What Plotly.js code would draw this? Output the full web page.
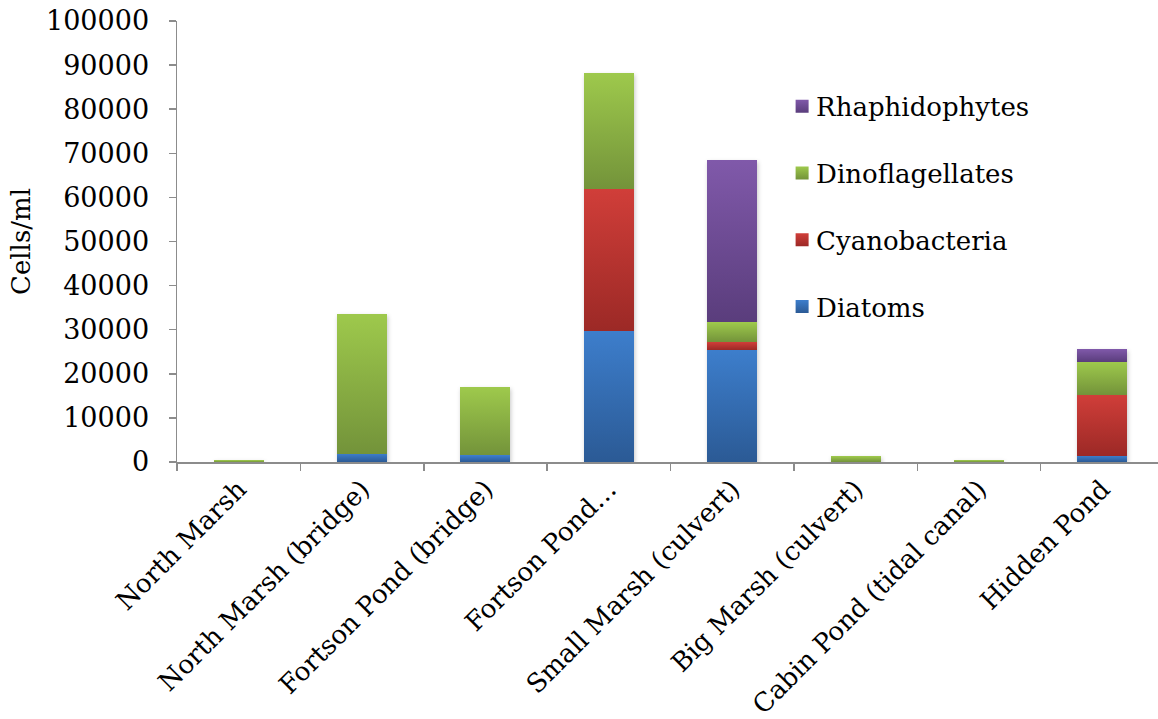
<!DOCTYPE html>
<html>
<head>
<meta charset="utf-8">
<script src="https://cdn.plot.ly/plotly-3.0.1.min.js"></script>
<style>
html,body{margin:0;padding:0;overflow:hidden;background:#fff;}
#chart{width:1166px;height:719px;}
</style>
</head>
<body>
<div id="chart"></div>
<script>
const categories = ["North Marsh","North Marsh (bridge)","Fortson Pond (bridge)","Fortson Pond…","Small Marsh (culvert)","Big Marsh (culvert)","Cabin Pond (tidal canal)","Hidden Pond"];
const diatoms        = [0, 1900, 1500, 29800, 25400, 0, 0, 1400];
const cyanobacteria  = [0, 0, 0, 32000, 1800, 0, 0, 13800];
const dinoflagellates= [400, 31700, 15400, 26500, 4500, 1300, 400, 7500];
const rhaphidophytes = [0, 0, 0, 0, 36800, 0, 0, 2900];
const yTicks = [0,10000,20000,30000,40000,50000,60000,70000,80000,90000,100000];

const seriesNames = ["Diatoms","Cyanobacteria","Dinoflagellates","Rhaphidophytes"];
const seriesVals = [diatoms, cyanobacteria, dinoflagellates, rhaphidophytes];
const midColors = ["#3469b0","#b83430","#89ae42","#6e4d94"];
const gradStops = [["#3d7ecc","#2b5a95"],["#d03e39","#9c2926"],["#9ec94c","#73933a"],["#8059aa","#5a3d7c"]];

const FONT = "DejaVu Serif, Liberation Serif, serif";

const data = seriesNames.map((n,i)=>({
  type:"bar", name:n, x:categories, y:seriesVals[i],
  marker:{color:midColors[i], line:{width:0}},
  legendgroup:"g"+i, legendrank:4-i, hoverinfo:"skip"
}));

const layout = {
  width:1166, height:719,
  margin:{l:177, r:2, t:21, b:257},
  barmode:"stack", bargap:0.595,
  paper_bgcolor:"#fff", plot_bgcolor:"#fff",
  font:{family:FONT, size:26, color:"#000"},
  showlegend:true,
  legend:{x:0.607, y:0.86, xanchor:"left", yanchor:"top", traceorder:"grouped", tracegroupgap:30,
          font:{family:FONT, size:26, color:"#000"}, bgcolor:"rgba(0,0,0,0)", itemwidth:30},
  xaxis:{type:"category", tickangle:-45, showline:true, linecolor:"#8c8c8c", linewidth:1.5,
         ticks:"outside", ticklen:7, tickcolor:"#8c8c8c", tickwidth:1.5, tickson:"boundaries",
         showgrid:false, zeroline:false, tickfont:{family:FONT, size:26, color:"#000"}, automargin:false},
  yaxis:{range:[0,100000], tickvals:yTicks, ticktext:yTicks.map(String), showline:true,
         linecolor:"#8c8c8c", linewidth:1.5, ticks:"outside", ticklen:7, tickcolor:"#8c8c8c", tickwidth:1.5,
         showgrid:false, zeroline:false, ticklabelstandoff:14, automargin:false,
         tickfont:{family:FONT, size:27, color:"#000"},
         title:{text:"Cells/ml", font:{family:FONT, size:26, color:"#000"}, standoff:8}}
};

Plotly.newPlot("chart", data, layout, {staticPlot:true, displayModeBar:false}).then(gd=>{
  const svg = gd.querySelector("svg.main-svg");
  const ns = "http://www.w3.org/2000/svg";
  let defs = svg.querySelector("defs");
  if(!defs){defs=document.createElementNS(ns,"defs");svg.insertBefore(defs,svg.firstChild);}
  gradStops.forEach((s,i)=>{
    const g=document.createElementNS(ns,"linearGradient");
    g.setAttribute("id","bargrad"+i);
    g.setAttribute("x1","0");g.setAttribute("y1","0");g.setAttribute("x2","0");g.setAttribute("y2","1");
    [[0,s[0]],[1,s[1]]].forEach(([o,c])=>{
      const st=document.createElementNS(ns,"stop");
      st.setAttribute("offset",o);st.setAttribute("stop-color",c);g.appendChild(st);
    });
    defs.appendChild(g);
  });
  const traces = gd.querySelectorAll(".barlayer .trace");
  traces.forEach((t,i)=>{
    t.querySelectorAll("path").forEach(p=>{p.style.fill="url(#bargrad"+i+")";});
  });
  const bl = gd.querySelector(".barlayer");
  if(bl) bl.style.filter = "drop-shadow(1px 2px 2px rgba(0,0,0,0.22))";
  gd.querySelectorAll(".legend .traces").forEach(lt=>{
    const txt = lt.querySelector(".legendtext").textContent;
    const i = seriesNames.indexOf(txt);
    if(i>=0) lt.querySelectorAll(".legendpoints path").forEach(p=>{
      p.style.fill="url(#bargrad"+i+")";
      p.setAttribute("d","M6.5,6.5H-6.5V-6.5H6.5Z");
      const prev = p.getAttribute("transform") || "";
      p.setAttribute("transform", (prev+" translate(6,0)").trim());
    });
  });
});
</script>
</body>
</html>
